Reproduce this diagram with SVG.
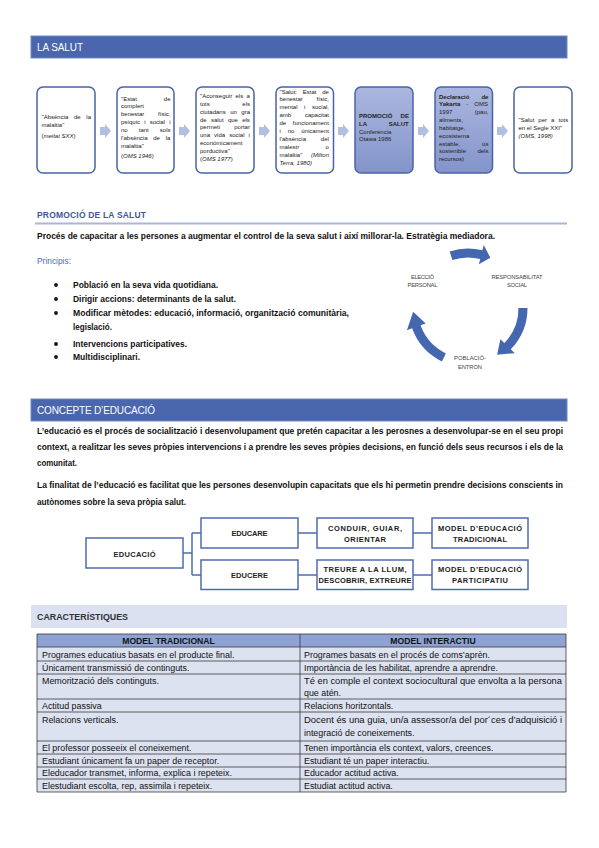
<svg xmlns="http://www.w3.org/2000/svg" width="599" height="848" viewBox="0 0 599 848">
<style>
text{font-family:"Liberation Sans",Arial,sans-serif;fill:#1a1a1a}
.hdr{fill:#4A66AC;stroke:#6F86C4;stroke-width:1}
.hdrt{fill:#fff;font-size:10px}
.box{fill:#fff;stroke:#4A63A8;stroke-width:1.5}
.boxd{fill:url(#g);stroke:#4A63A8;stroke-width:1.5}
.bt{font-size:6px;fill:#222}
.b{font-weight:bold}
.i{font-style:italic}
.cyc{fill:#4467B0}
.cl{font-size:5.8px;fill:#444;text-anchor:middle}
.body{font-size:9px;font-weight:bold;fill:#111}
.eb{fill:#fff;stroke:#4F6BB0;stroke-width:1.5}
.et{font-size:7.5px;font-weight:bold;fill:#222;text-anchor:middle}
.con{fill:none;stroke:#4F6BB0;stroke-width:1.5}
.tt{font-size:8.9px;fill:#111}
.th{font-size:8.6px;font-weight:bold;fill:#111;text-anchor:middle}
.row{fill:#DDE2F0}
.grid{stroke:#3a3a3a;stroke-width:0.8;fill:none}
</style>
<defs>
<linearGradient id="g" x1="0" y1="0" x2="0" y2="1">
<stop offset="0" stop-color="#ABB7DF"/>
<stop offset="1" stop-color="#8394CB"/>
</linearGradient>
<path id="chev" d="M-6,-4 H-1 V-7 L5,0 L-1,7 V4 H-6 Z" fill="#B3BFDF"/>
</defs>

<!-- LA SALUT header -->
<g id="hdr-salut">
<rect class="hdr" x="31" y="36" width="536" height="22"/>
<text class="hdrt" x="37" y="51" textLength="46">LA SALUT</text>
</g>

<!-- top flow connectors -->
<g id="flow-arrows">
<use href="#chev" x="106" y="131"/>
<use href="#chev" x="185" y="131"/>
<use href="#chev" x="265" y="131"/>
<use href="#chev" x="344" y="131"/>
<use href="#chev" x="424" y="131"/>
<use href="#chev" x="503" y="131"/>
</g>

<g id="box1">
<rect class="box" x="37" y="87" width="58" height="86" rx="6"/>
<text class="bt" x="41.5" y="119" word-spacing="4">"Absència de la</text>
<text class="bt" x="41.5" y="127">malaltia"</text>
<text class="bt" x="41.5" y="138">(<tspan class="i">meitat SXX</tspan>)</text>
</g>

<g id="box2">
<rect class="box" x="117" y="87" width="57" height="86" rx="6"/>
<text class="bt" x="121" y="100.5" word-spacing="25.4">"Estat de</text>
<text class="bt" x="121" y="108.3">complert</text>
<text class="bt" x="121" y="116" word-spacing="12.1">benestar físic,</text>
<text class="bt" x="121" y="124" word-spacing="2.5">psíquic i social i</text>
<text class="bt" x="121" y="132" word-spacing="9.4">no tant sols</text>
<text class="bt" x="121" y="139.7" word-spacing="4.1">l'absència de la</text>
<text class="bt" x="121" y="147.5">malaltia"</text>
<text class="bt" x="121" y="158">(<tspan class="i">OMS 1946</tspan>)</text>
</g>

<g id="box3">
<rect class="box" x="196" y="87" width="58" height="86" rx="6"/>
<text class="bt" x="200" y="98" word-spacing="1.7">"Aconseguir els a</text>
<text class="bt" x="200" y="105.6" word-spacing="31">tots els</text>
<text class="bt" x="200" y="113.5" word-spacing="2.8">ciutadans un gra</text>
<text class="bt" x="200" y="121.5" word-spacing="2.6">de salut que els</text>
<text class="bt" x="200" y="129.3" word-spacing="12.6">permeti portar</text>
<text class="bt" x="200" y="137.3" word-spacing="2.4">una vida social i</text>
<text class="bt" x="200" y="145">econòmicament</text>
<text class="bt" x="200" y="152.8">porductiva"</text>
<text class="bt" x="200" y="160.8">(<tspan class="i">OMS 1977</tspan>)</text>
</g>

<g id="box4">
<rect class="box" x="276" y="87" width="57.5" height="86" rx="6"/>
<text class="bt" x="279.5" y="93.5" word-spacing="4.1">"Salut: Estat de</text>
<text class="bt" x="279.5" y="101.4" word-spacing="12.1">benestar físic,</text>
<text class="bt" x="279.5" y="109.3" word-spacing="4.9">mental i social,</text>
<text class="bt" x="279.5" y="117.2" word-spacing="12.1">amb capacitat</text>
<text class="bt" x="279.5" y="125.1" word-spacing="5">de funcionament</text>
<text class="bt" x="279.5" y="133" word-spacing="5.2">i no únicament</text>
<text class="bt" x="279.5" y="140.9" word-spacing="13.2">l'absència del</text>
<text class="bt" x="279.5" y="148.8" word-spacing="24.7">malestr o</text>
<text class="bt" x="279.5" y="156.7" word-spacing="7">malaltia" <tspan class="i">(Milton</tspan></text>
<text class="bt i" x="279.5" y="164.6">Terra, 1980)</text>
</g>

<g id="box5">
<rect class="boxd" x="355" y="87" width="58" height="86" rx="6"/>
<text class="bt b" x="359" y="117.5" word-spacing="6.6">PROMOCIÓ DE</text>
<text class="bt b" x="359" y="125.5" word-spacing="20.2">LA SALUT</text>
<text class="bt" x="359" y="133.5">Conferència</text>
<text class="bt" x="359" y="141">Otawa 1986</text>
</g>

<g id="box6">
<rect class="boxd" x="435" y="87" width="57.5" height="86" rx="6"/>
<text class="bt b" x="439" y="98.5" word-spacing="10.4">Declaració de</text>
<text class="bt" x="439" y="106.4" word-spacing="4.3"><tspan class="b">Yakarta</tspan> - OMS</text>
<text class="bt" x="439" y="114.2" word-spacing="20.7">1997 (pau,</text>
<text class="bt" x="439" y="122">aliments,</text>
<text class="bt" x="439" y="129.9">habitatge,</text>
<text class="bt" x="439" y="137.7">ecosistema</text>
<text class="bt" x="439" y="145.6" word-spacing="20.4">estable, ús</text>
<text class="bt" x="439" y="153.4" word-spacing="9.7">sostenible dels</text>
<text class="bt" x="439" y="161.2">recursos)</text>
</g>

<g id="box7">
<rect class="box" x="514" y="87" width="58" height="86" rx="6"/>
<text class="bt" x="518.5" y="122" word-spacing="2.4">"Salut per a tots</text>
<text class="bt" x="518.5" y="129.6">en el Segle XXI"</text>
<text class="bt i" x="518.5" y="137.5">(OMS, 1998)</text>
</g>

<!-- PROMOCIÓ DE LA SALUT -->
<g id="promocio">
<text x="37" y="218" font-size="8.5" font-weight="bold" style="fill:#3F5896" textLength="109" lengthAdjust="spacing">PROMOCIÓ DE LA SALUT</text>
<line x1="35" y1="223.5" x2="567" y2="223.5" stroke="#A9B6DA" stroke-width="2"/>
<text class="body" x="37" y="239" textLength="458" lengthAdjust="spacingAndGlyphs">Procés de capacitar a les persones a augmentar el control de la seva salut i així millorar-la. Estratègia mediadora.</text>
<text x="37" y="264" font-size="9" style="fill:#4A6CC0" textLength="34" lengthAdjust="spacingAndGlyphs">Principis:</text>
</g>

<g id="principis">
<circle cx="56" cy="285" r="1.9" fill="#111"/>
<circle cx="56" cy="299" r="1.9" fill="#111"/>
<circle cx="56" cy="313" r="1.9" fill="#111"/>
<circle cx="56" cy="344" r="1.9" fill="#111"/>
<circle cx="56" cy="357" r="1.9" fill="#111"/>
<text class="body" x="73" y="288" textLength="145" lengthAdjust="spacingAndGlyphs">Població en la seva vida quotidiana.</text>
<text class="body" x="73" y="302" textLength="163" lengthAdjust="spacingAndGlyphs">Dirigir accions: determinants de la salut.</text>
<text class="body" x="73" y="316" textLength="276" lengthAdjust="spacingAndGlyphs">Modificar mètodes: educació, informació, organització comunitària,</text>
<text class="body" x="73" y="330" textLength="39" lengthAdjust="spacingAndGlyphs">legislació.</text>
<text class="body" x="73" y="347" textLength="114" lengthAdjust="spacingAndGlyphs">Intervencions participatives.</text>
<text class="body" x="73" y="360" textLength="67" lengthAdjust="spacingAndGlyphs">Multidisciplinari.</text>
</g>

<!-- cycle -->
<g id="cycle-arrows">
<path class="cyc" d="M449.61,251.41 A59.5,59.5 0 0 1 482.39,250.27 L483.72,244.93 L490.37,257.75 L478.89,264.34 L480.22,259.0 A50.5,50.5 0 0 0 452.39,259.97 Z"/>
<path class="cyc" d="M527.5,308 A59.5,59.5 0 0 1 510.80,349.33 L514.76,353.15 L497.15,354.64 L500.37,339.26 L504.33,343.08 A50.5,50.5 0 0 0 518.5,308 Z"/>
<path class="cyc" d="M441.92,361.48 A59.5,59.5 0 0 1 412.09,328.35 L406.92,330.23 L413.13,311.84 L425.71,323.39 L420.55,325.27 A50.5,50.5 0 0 0 445.86,353.39 Z"/>
</g>
<g id="cycle-eleccio">
<text class="cl" x="422.5" y="279" textLength="23">ELECCIÓ</text>
<text class="cl" x="422.5" y="286.6" textLength="30">PERSONAL</text>
</g>
<g id="cycle-responsabilitat">
<text class="cl" x="517" y="279" textLength="51">RESPONSABILITAT</text>
<text class="cl" x="517" y="286.6" textLength="20">SOCIAL</text>
</g>
<g id="cycle-poblacio">
<text class="cl" x="470" y="360" textLength="32">POBLACIÓ-</text>
<text class="cl" x="470" y="368.8" textLength="24">ENTRON</text>
</g>

<!-- CONCEPTE D'EDUCACIÓ -->
<g id="hdr-concepte">
<rect class="hdr" x="31" y="399" width="536" height="22"/>
<text class="hdrt" x="37" y="414" font-size="9.5" textLength="118" lengthAdjust="spacing">CONCEPTE D’EDUCACIÓ</text>
</g>
<g id="concepte-text">
<text class="body" x="37" y="433.5" textLength="526" lengthAdjust="spacingAndGlyphs">L’educació es el procés de socialització i desenvolupament que pretén capacitar a les perosnes a desenvolupar-se en el seu propi</text>
<text class="body" x="37" y="450" textLength="526" lengthAdjust="spacingAndGlyphs">context, a realitzar les seves pròpies intervencions i a prendre les seves pròpies decisions, en funció dels seus recursos i els de la</text>
<text class="body" x="37" y="466" textLength="40" lengthAdjust="spacingAndGlyphs">comunitat.</text>
<text class="body" x="37" y="488" textLength="526" lengthAdjust="spacingAndGlyphs">La finalitat de l’educació es facilitat que les persones desenvolupin capacitats que els hi permetin prendre decisions conscients in</text>
<text class="body" x="37" y="504.5" textLength="149" lengthAdjust="spacingAndGlyphs">autònomes sobre la seva pròpia salut.</text>
</g>

<!-- education diagram connectors -->
<g id="edu-connectors">
<path class="con" d="M183,553 H192 M192,533 V575 M192,533 H201 M192,575 H201"/>
<path class="con" d="M298,533 H317 M413,533 H432 M298,575 H317 M413,575 H432"/>
</g>
<g id="n-educacio">
<rect class="eb" x="86" y="538" width="97" height="30"/>
<text class="et" x="134.5" y="556.5" textLength="42">EDUCACIÓ</text>
</g>
<g id="n-educare">
<rect class="eb" x="201" y="518" width="97" height="30"/>
<text class="et" x="249.5" y="536" textLength="36">EDUCARE</text>
</g>
<g id="n-educere">
<rect class="eb" x="201" y="560" width="97" height="29.5"/>
<text class="et" x="249.5" y="577.5" textLength="37">EDUCERE</text>
</g>
<g id="n-conduir">
<rect class="eb" x="317" y="518" width="96" height="30"/>
<text class="et" x="365" y="531" textLength="74">CONDUIR, GUIAR,</text>
<text class="et" x="365" y="542" textLength="42">ORIENTAR</text>
</g>
<g id="n-treure">
<rect class="eb" x="317" y="560" width="96" height="29.5"/>
<text class="et" x="365" y="571.5" textLength="83">TREURE A LA LLUM,</text>
<text class="et" x="365" y="582.5" textLength="93">DESCOBRIR, EXTREURE</text>
</g>
<g id="n-tradicional">
<rect class="eb" x="432" y="518" width="96" height="30"/>
<text class="et" x="480" y="531" textLength="84">MODEL D’EDUCACIÓ</text>
<text class="et" x="480" y="542" textLength="54">TRADICIONAL</text>
</g>
<g id="n-participatiu">
<rect class="eb" x="432" y="560" width="96" height="29.5"/>
<text class="et" x="480" y="571.5" textLength="84">MODEL D’EDUCACIÓ</text>
<text class="et" x="480" y="582.5" textLength="56">PARTICIPATIU</text>
</g>

<!-- CARACTERÍSTIQUES -->
<g id="caracteristiques">
<rect x="31" y="605" width="536" height="23" fill="#DCE1F1"/>
<text x="37" y="619.5" font-size="8.5" font-weight="bold" style="fill:#333" textLength="91" lengthAdjust="spacingAndGlyphs">CARACTERÍSTIQUES</text>
</g>

<g id="table">
<rect x="37" y="634" width="529" height="13" fill="#8FA2D4"/>
<rect class="row" x="37" y="647" width="529" height="145"/>
<path class="grid" d="M37,634 H566 V792 H37 Z M37,647 H566 M37,661 H566 M37,674 H566 M37,699 H566 M37,712 H566 M37,741 H566 M37,754 H566 M37,767 H566 M37,779 H566 M300,634 V792"/>
<text class="th" x="168.5" y="644">MODEL TRADICIONAL</text>
<text class="th" x="433" y="644">MODEL INTERACTIU</text>

<text class="tt" x="42" y="657.5">Programes educatius basats en el producte final.</text>
<text class="tt" x="304" y="657.5">Programes basats en el procés de coms’aprèn.</text>
<text class="tt" x="42" y="671">Únicament transmissió de continguts.</text>
<text class="tt" x="304" y="671">Importància de les habilitat, aprendre a aprendre.</text>
<text class="tt" x="42" y="684">Memorització dels continguts.</text>
<text class="tt" x="304" y="684" textLength="258" lengthAdjust="spacingAndGlyphs">Té en comple el context sociocultural que envolta a la persona</text>
<text class="tt" x="304" y="696">que atén.</text>
<text class="tt" x="42" y="709">Actitud passiva</text>
<text class="tt" x="304" y="709">Relacions horitzontals.</text>
<text class="tt" x="42" y="722.5">Relacions verticals.</text>
<text class="tt" x="304" y="722.5" textLength="258" lengthAdjust="spacingAndGlyphs">Docent és una guia, un/a assessor/a del por´ces d’adquisició i</text>
<text class="tt" x="304" y="736">integració de coneixements.</text>
<text class="tt" x="42" y="750.5">El professor posseeix el coneixement.</text>
<text class="tt" x="304" y="750.5">Tenen importància els context, valors, creences.</text>
<text class="tt" x="42" y="763.5">Estudiant únicament fa un paper de receptor.</text>
<text class="tt" x="304" y="763.5">Estudiant té un paper interactiu.</text>
<text class="tt" x="42" y="776">Eleducador transmet, informa, explica i repeteix.</text>
<text class="tt" x="304" y="776">Educador actitud activa.</text>
<text class="tt" x="42" y="788.5">Elestudiant escolta, rep, assimila i repeteix.</text>
<text class="tt" x="304" y="788.5">Estudiat actitud activa.</text>
</g>
</svg>
